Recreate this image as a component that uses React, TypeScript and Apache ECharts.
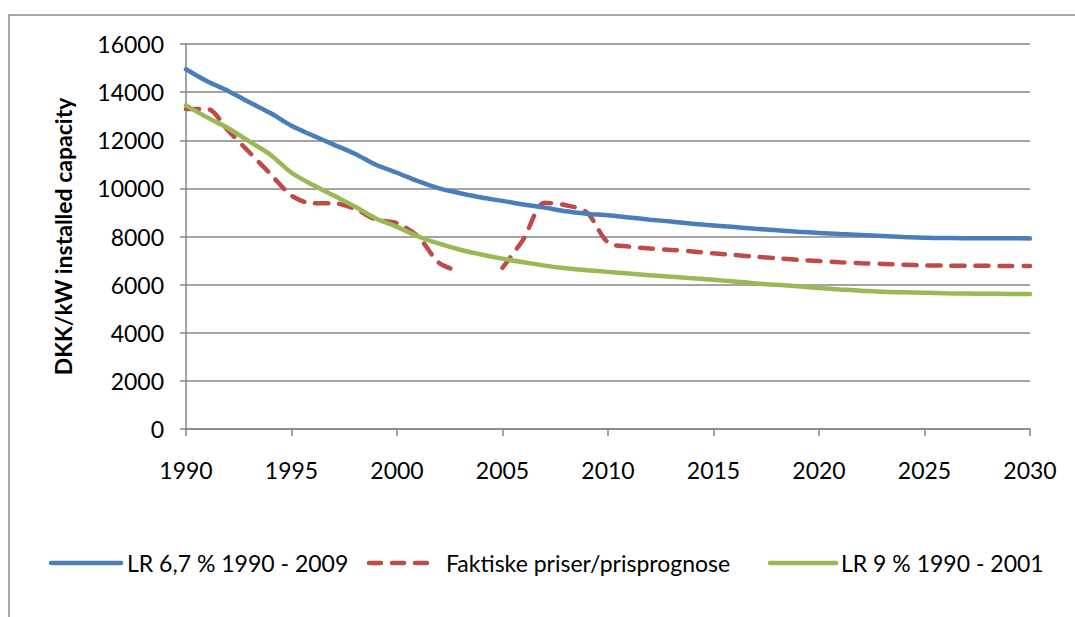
import React, { useEffect, useRef } from "react";
import * as echarts from "echarts";

const years: number[] = [];
for (let y = 1990; y <= 2030; y++) years.push(y);

const lr67: number[] = [
  14950, 14450, 14050, 13580, 13130, 12600, 12200, 11820, 11440, 10980,
  10650, 10300, 10000, 9800, 9620, 9480, 9330, 9200, 9050, 8950,
  8880, 8790, 8700, 8620, 8530, 8460, 8390, 8320, 8260, 8200,
  8150, 8100, 8060, 8020, 7980, 7950, 7940, 7930, 7930, 7925, 7920,
];

const faktiske: (number | null)[] = [
  13300, 13300, 12400, 11500, 10600, 9700, 9380, 9380, 9150, 8700,
  8550, 8000, 6900, 6550, null, 6700, 7900, 9400, 9300, 9000,
  7750, 7580, 7500, 7440, 7380, 7300, 7230, 7160, 7100, 7030,
  6980, 6930, 6890, 6860, 6830, 6800, 6790, 6785, 6780, 6775, 6775,
];

const lr9: number[] = [
  13450, 12950, 12500, 11950, 11400, 10650, 10150, 9700, 9250, 8750,
  8400, 8000, 7700, 7450, 7250, 7080, 6930, 6790, 6680, 6600,
  6530, 6460, 6390, 6330, 6260, 6200, 6130, 6050, 5990, 5930,
  5860, 5800, 5750, 5700, 5680, 5660, 5640, 5630, 5620, 5615, 5610,
];

const seriesNames = [
  "LR 6,7 % 1990 - 2009",
  "Faktiske priser/prisprognose",
  "LR 9 % 1990 - 2001",
];
const seriesColors = ["#4a7ebb", "#be4b48", "#98b954"];

const FONT = "Lato";
const DASH = [13, 11];

export default function App() {
  const ref = useRef<HTMLDivElement>(null);
  useEffect(() => {
    if (!ref.current) return;
    const chart = echarts.init(ref.current, null, { renderer: "svg" });
    const pair = (arr: (number | null)[]) => years.map((y, i) => [y, arr[i]]);

    const legendY = 563;
    const legendItems = [
      { x1: 51, x2: 121, tx: 127, dash: false },
      { x1: 369, x2: 427, tx: 446, dash: true },
      { x1: 770, x2: 836, tx: 841, dash: false },
    ];
    const legendGraphics: any[] = [];
    legendItems.forEach((it, i) => {
      legendGraphics.push({
        type: "line",
        shape: { x1: it.x1, y1: legendY, x2: it.x2, y2: legendY },
        style: {
          stroke: seriesColors[i],
          lineWidth: 4.5,
          lineCap: "round",
          lineDash: it.dash ? [12, 11] : null,
        },
        silent: true,
      });
      legendGraphics.push({
        type: "text",
        x: it.tx,
        y: legendY,
        style: {
          text: seriesNames[i],
          fontFamily: FONT,
          fontSize: 23,
          fill: "#000",
          textVerticalAlign: "middle",
          verticalAlign: "middle",
        },
        silent: true,
      });
    });

    chart.setOption({
      animation: false,
      backgroundColor: "#ffffff",
      textStyle: { fontFamily: FONT },
      graphic: [
        {
          type: "rect",
          shape: { x: 9, y: 15, width: 1200, height: 800 },
          style: { fill: "none", stroke: "#8c8c8c", lineWidth: 1.5 },
          silent: true,
        },
        ...legendGraphics,
      ],
      grid: { left: 186, right: 45, top: 44, bottom: 188 },
      xAxis: {
        type: "value",
        min: 1990,
        max: 2030,
        interval: 5,
        axisLine: { show: true, lineStyle: { color: "#868686", width: 1.5 } },
        axisTick: { show: true, length: 7, inside: false, lineStyle: { color: "#868686", width: 1.5 } },
        splitLine: { show: false },
        axisLabel: {
          margin: 29,
          fontFamily: FONT,
          fontSize: 23,
          color: "#000",
          formatter: (v: number) => String(v),
        },
      },
      yAxis: {
        type: "value",
        min: 0,
        max: 16000,
        interval: 2000,
        name: "DKK/kW installed capacity",
        nameLocation: "middle",
        nameGap: 112,
        nameRotate: 90,
        nameTextStyle: { fontFamily: FONT, fontSize: 23, fontWeight: "bold", color: "#000" },
        axisLine: { show: true, lineStyle: { color: "#868686", width: 1.5 } },
        axisTick: { show: true, length: 6, lineStyle: { color: "#868686", width: 1.5 } },
        splitLine: { show: true, lineStyle: { color: "#868686", width: 1.5 } },
        axisLabel: {
          margin: 22,
          fontFamily: FONT,
          fontSize: 23,
          color: "#000",
          formatter: (v: number) => String(v),
        },
      },
      series: [
        {
          name: seriesNames[0],
          type: "line",
          data: pair(lr67),
          smooth: 0.3,
          symbol: "none",
          lineStyle: { color: seriesColors[0], width: 4.5, cap: "round" },
          itemStyle: { color: seriesColors[0] },
          z: 3,
        },
        {
          name: seriesNames[1],
          type: "line",
          data: pair(faktiske),
          smooth: 0.3,
          connectNulls: false,
          symbol: "none",
          lineStyle: { color: seriesColors[1], width: 4.5, type: DASH, cap: "round" },
          itemStyle: { color: seriesColors[1] },
          z: 2,
        },
        {
          name: seriesNames[2],
          type: "line",
          data: pair(lr9),
          smooth: 0.3,
          symbol: "none",
          lineStyle: { color: seriesColors[2], width: 4.5, cap: "round" },
          itemStyle: { color: seriesColors[2] },
          z: 4,
        },
      ],
    });
    return () => chart.dispose();
  }, []);
  return (
    <div
      ref={ref}
      style={{ position: "fixed", left: 0, top: 0, width: 1075, height: 617 }}
    />
  );
}
